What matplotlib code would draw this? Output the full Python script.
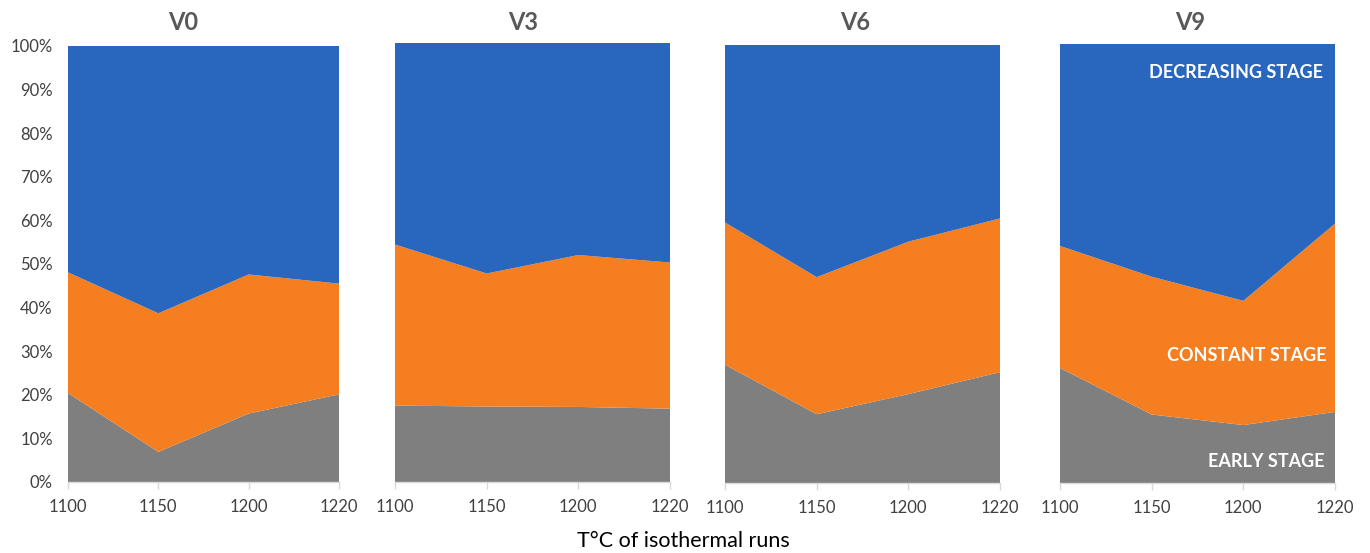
import numpy as np
import matplotlib.pyplot as plt

plt.rcParams['font.family'] = ['Lato', 'DejaVu Sans']

# temperatures of the isothermal runs (categories, evenly spaced)
temps = ["1100", "1150", "1200", "1220"]
panels = ["V0", "V3", "V6", "V9"]

# share of each stage, in %
early = {
    "V0": [20.4, 6.9, 15.7, 20.1],
    "V3": [17.4, 17.2, 17.1, 16.7],
    "V6": [27.0, 15.7, 20.3, 25.3],
    "V9": [26.2, 15.6, 13.2, 16.2],
}
constant = {
    "V0": [27.7, 31.8, 31.9, 25.4],
    "V3": [36.7, 30.3, 34.6, 33.3],
    "V6": [32.5, 31.3, 34.8, 35.1],
    "V9": [27.8, 31.4, 28.3, 42.9],
}
decreasing = {
    "V0": [51.9, 61.3, 52.4, 54.5],
    "V3": [45.9, 52.5, 48.3, 50.0],
    "V6": [40.5, 53.0, 44.9, 39.6],
    "V9": [46.0, 53.0, 58.5, 40.9],
}

c_early = "#7f7f7f"
c_const = "#f47e20"
c_decr = "#2867bd"

W, H = 1370, 553
fig = plt.figure(figsize=(W / 100, H / 100), dpi=100)

# plot area boxes in pixels: left, right, top, bottom
boxes = [(68, 339, 46, 482), (395, 670, 43, 482), (725, 1000, 45, 483), (1060, 1335, 44, 483)]
title_x = [183, 523, 855, 1190]

x = np.arange(len(temps))
for i, name in enumerate(panels):
    l, r, t, b = boxes[i]
    ax = fig.add_axes([l / W, 1 - b / H, (r - l) / W, (b - t) / H])
    ax.stackplot(x, early[name], constant[name], decreasing[name],
                 colors=[c_early, c_const, c_decr], linewidth=0)
    ax.set_xlim(0, 3)
    ax.set_ylim(0, 100)
    ax.set_xticks(x)
    ax.set_xticklabels(temps, fontsize=12, color="#404040")
    ax.tick_params(axis="x", length=5, width=1, color="#d9d9d9", pad=7)
    for s in ["top", "right", "left"]:
        ax.spines[s].set_visible(False)
    ax.spines["bottom"].set_color("#d9d9d9")
    ax.spines["bottom"].set_linewidth(1)
    if i == 0:
        ax.set_yticks(np.arange(0, 101, 10))
        ax.set_yticklabels([f"{v}%" for v in range(0, 101, 10)], fontsize=12, color="#404040")
        ax.tick_params(axis="y", length=0, pad=11)
    else:
        ax.set_yticks([])
    fig.text(title_x[i] / W, 1 - 22 / H, name, ha="center", va="center",
             fontsize=17, fontweight="bold", color="#595959")
    if name == "V9":
        ax.text(0.955, 0.934, "DECREASING STAGE", transform=ax.transAxes, ha="right", va="center",
                fontsize=13, fontweight="bold", color="white")
        ax.text(0.97, 0.29, "CONSTANT STAGE", transform=ax.transAxes, ha="right", va="center",
                fontsize=13, fontweight="bold", color="white")
        ax.text(0.96, 0.048, "EARLY STAGE", transform=ax.transAxes, ha="right", va="center",
                fontsize=13, fontweight="bold", color="white")

fig.text(683 / W, 1 - 541 / H, "T°C of isothermal runs", ha="center", va="center",
         fontsize=15.5, color="#000000")

fig.savefig("out.png", dpi=100)
